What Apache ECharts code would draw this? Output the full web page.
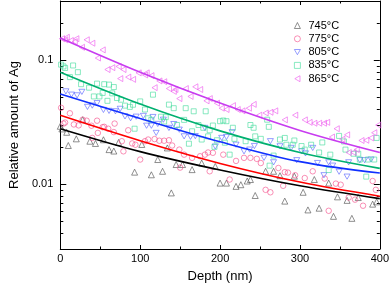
<!DOCTYPE html>
<html><head><meta charset="utf-8">
<script src="https://cdn.jsdelivr.net/npm/echarts@6/dist/echarts.min.js"></script>
<style>html,body{margin:0;padding:0;background:#fff}#c{width:392px;height:288px}</style>
</head><body><div id="c"></div>
<script>
// ---- data ----
const seriesNames = ['745°C', '775°C', '805°C', '835°C', '865°C'];
const fitX = [0, 100, 200, 300, 400];
const fit745 = [0.0280, 0.0183, 0.0130, 0.0097, 0.00764];
const fit775 = [0.0359, 0.0224, 0.0147, 0.0104, 0.0080];
const fit805 = [0.0533, 0.0339, 0.0220, 0.0152, 0.0123];
const fit835 = [0.0800, 0.0443, 0.0269, 0.0180, 0.0134];
const fit865 = [0.151, 0.0799, 0.0451, 0.0271, 0.0180];

const pts745 = [[0,0.0293],[2,0.0279],[8,0.0262],[10,0.0205],[20,0.0232],[28,0.0331],[37,0.0222],[44,0.0213],[54,0.0228],[61,0.0190],[67,0.0185],[73,0.0217],[93,0.0125],[102,0.0209],[114,0.0119],[122,0.0158],[128,0.0127],[134,0.0196],[139,0.0085],[145,0.0144],[153,0.0144],[165,0.0131],[177,0.0148],[194,0.0139],[200,0.0102],[208,0.0102],[220,0.0096],[226,0.0099],[234,0.0106],[238,0.0109],[244,0.0081],[257,0.0127],[267,0.0127],[275,0.0117],[281,0.0073],[293,0.0116],[304,0.0086],[310,0.0062],[318,0.0109],[324,0.0064],[336,0.0102],[342,0.0055],[347,0.0079],[359,0.0074],[365,0.0053],[373,0.0078],[391,0.0069],[396,0.0072]];
const pts775 = [[1,0.0413],[4,0.0308],[6,0.0314],[12,0.0373],[17,0.0303],[23,0.0298],[28,0.0331],[33,0.0325],[39,0.0296],[40,0.0236],[46,0.0325],[47,0.0259],[53,0.0288],[55,0.0290],[60,0.0280],[67,0.0263],[68,0.0308],[77,0.0222],[79,0.0184],[85,0.0272],[90,0.0213],[94,0.0208],[100,0.0158],[106,0.0222],[110,0.0229],[118,0.0231],[124,0.0224],[130,0.0224],[136,0.0226],[140,0.0205],[149,0.0190],[150,0.0136],[155,0.0173],[165,0.0163],[175,0.0168],[181,0.0173],[185,0.0180],[187,0.0127],[191,0.0179],[204,0.0173],[212,0.0109],[220,0.0154],[230,0.0163],[238,0.0163],[246,0.0160],[251,0.0148],[257,0.0090],[263,0.0086],[273,0.0135],[279,0.0097],[281,0.0125],[285,0.0124],[294,0.0118],[306,0.0112],[316,0.0127],[331,0.0111],[336,0.0061],[345,0.0101],[351,0.0099],[361,0.0078],[369,0.0075],[379,0.0067],[391,0.0106],[395,0.0090]];
const pts805 = [[7,0.0560],[14,0.0527],[21,0.0520],[27,0.0555],[34,0.0420],[40,0.0430],[46,0.0450],[54,0.0397],[61,0.0390],[69,0.0387],[75,0.0405],[81,0.0352],[88,0.0340],[95,0.0350],[104,0.0355],[108,0.0296],[114,0.0296],[116,0.0348],[120,0.0259],[122,0.0306],[129,0.0331],[136,0.0284],[142,0.0305],[149,0.0275],[155,0.0243],[163,0.0241],[169,0.0244],[181,0.0284],[194,0.0201],[202,0.0236],[208,0.0240],[215,0.0262],[220,0.0208],[230,0.0184],[237,0.0190],[243,0.0203],[255,0.0163],[263,0.0222],[267,0.0150],[275,0.0202],[289,0.0196],[296,0.0156],[302,0.0184],[307,0.0177],[316,0.0196],[322,0.0148],[330,0.0118],[336,0.0150],[341,0.0141],[349,0.0126],[359,0.0115],[361,0.0150],[375,0.0156],[381,0.0156],[389,0.0158]];
const pts835 = [[1,0.0920],[4,0.0890],[6,0.0865],[12,0.0730],[16,0.0906],[22,0.0800],[26,0.0640],[36,0.0600],[42,0.0510],[46,0.0647],[49,0.0510],[53,0.0544],[55,0.0640],[59,0.0470],[61,0.0635],[65,0.0540],[67,0.0607],[71,0.0495],[76,0.0480],[81,0.0430],[87,0.0420],[91,0.0437],[93,0.0280],[100,0.0465],[106,0.0400],[110,0.0340],[114,0.0330],[116,0.0527],[126,0.0350],[130,0.0320],[132,0.0347],[136,0.0438],[142,0.0410],[146,0.0300],[155,0.0330],[157,0.0410],[161,0.0212],[165,0.0267],[167,0.0387],[173,0.0300],[177,0.0229],[179,0.0285],[182,0.0387],[185,0.0243],[187,0.0272],[191,0.0297],[193,0.0200],[196,0.0226],[200,0.0322],[204,0.0326],[206,0.0216],[208,0.0322],[212,0.0173],[216,0.0285],[218,0.0232],[232,0.0222],[238,0.0300],[242,0.0285],[244,0.0243],[251,0.0232],[259,0.0331],[261,0.0290],[262,0.0141],[267,0.0170],[275,0.0229],[281,0.0236],[283,0.0208],[291,0.0208],[293,0.0225],[302,0.0203],[306,0.0190],[314,0.0208],[324,0.0180],[328,0.0217],[336,0.0130],[338,0.0173],[349,0.0245],[355,0.0221],[357,0.0190],[367,0.0176],[373,0.0176],[375,0.0158],[383,0.0115],[385,0.0158],[393,0.0158],[396,0.0236]];
const pts865 = [[2,0.149],[6,0.146],[8,0.153],[13,0.144],[18,0.141],[20,0.149],[27,0.127],[33,0.146],[40,0.137],[47,0.104],[53,0.121],[59,0.084],[65,0.087],[73,0.089],[75,0.071],[79,0.084],[85,0.073],[91,0.070],[98,0.079],[106,0.076],[108,0.079],[114,0.075],[118,0.060],[124,0.068],[130,0.067],[136,0.059],[142,0.056],[144,0.058],[149,0.049],[157,0.059],[163,0.051],[169,0.061],[175,0.058],[183,0.047],[187,0.049],[196,0.045],[202,0.041],[208,0.040],[216,0.043],[222,0.040],[228,0.039],[236,0.041],[242,0.044],[249,0.036],[257,0.0375],[263,0.038],[269,0.039],[281,0.033],[294,0.036],[306,0.033],[312,0.0315],[318,0.031],[324,0.031],[330,0.031],[334,0.0315],[340,0.024],[346,0.028],[353,0.023],[359,0.025],[361,0.018],[367,0.018],[371,0.019],[377,0.0225],[383,0.0226],[389,0.0236],[393,0.026],[398,0.030]];

const xTicks = [0, 100, 200, 300, 400];
const yLabelTicks = [0.01, 0.1];
const yMinorTicks = [0.004,0.005,0.006,0.007,0.008,0.009,0.02,0.03,0.04,0.05,0.06,0.07,0.08,0.09,0.2];
const yMin = 0.003, yMax = 0.3;

// ---- styles ----
const lineColors = ['#000000', '#ff0000', '#1030ff', '#00b070', '#c83cf0'];
const ptColors = ['#505050', '#f5508c', '#5a64ff', '#46dc9e', '#ee5aee'];
const TRI_DOWN = 'path://M0,0L10,0L5,8.66Z';
const TRI_LEFT = 'path://M0,5L8.66,0L8.66,10Z';
const symbols = ['triangle', 'circle', TRI_DOWN, 'rect', TRI_LEFT];
const sizes = [6, 5.5, 6, 5, 6];
const FONT = 'Liberation Sans';

const fits = [fit745, fit775, fit805, fit835, fit865];
const pts = [pts745, pts775, pts805, pts835, pts865];

const series = [];
pts.forEach((p, i) => {
  series.push({
    name: seriesNames[i], type: 'scatter', xAxisIndex: 0, yAxisIndex: 0,
    data: p, symbol: symbols[i], symbolSize: sizes[i], symbolKeepAspect: true,
    itemStyle: { color: 'rgba(255,255,255,0)', borderColor: ptColors[i], borderWidth: 0.8 },
    z: 2, silent: true
  });
});
fits.forEach((f, i) => {
  series.push({
    name: 'fit ' + seriesNames[i], type: 'line', xAxisIndex: 0, yAxisIndex: 0,
    data: fitX.map((x, k) => [x, f[k]]), showSymbol: false, smooth: 0.35,
    lineStyle: { color: lineColors[i], width: 1.6 }, z: 3, silent: true
  });
});

const L = v => Math.log10(v);
function auxY(pos, vals, len) {
  return {
    type: 'value', position: pos, min: L(yMin), max: L(yMax), gridIndex: 0,
    axisLine: { show: false, onZero: false }, splitLine: { show: false },
    axisLabel: { show: false },
    axisTick: { show: true, inside: true, length: len, customValues: vals.map(L), lineStyle: { color: '#000', width: 1 } }
  };
}
function xAx(pos, showLabel) {
  return {
    type: 'value', position: pos, min: 0, max: 400, interval: 100,
    axisLine: { show: true, onZero: false, lineStyle: { color: '#000', width: 1 } },
    splitLine: { show: false },
    axisTick: { show: true, inside: true, length: 4, lineStyle: { color: '#000' } },
    minorTick: { show: true, splitNumber: 2, length: 2.5, lineStyle: { color: '#000' } },
    axisLabel: { show: showLabel, color: '#000', fontSize: 11, fontFamily: FONT, margin: 4, customValues: xTicks },
    name: showLabel ? 'Depth (nm)' : '', nameLocation: 'middle', nameGap: 21,
    nameTextStyle: { color: '#000', fontSize: 13, fontFamily: FONT }
  };
}

const legendData = seriesNames.map((n, i) => ({
  name: n, icon: symbols[i],
  itemStyle: { color: 'rgba(255,255,255,0)', borderColor: ptColors[i], borderWidth: 0.8 }
}));

const option = {
  animation: false,
  grid: { left: 43, right: 9, top: 1, bottom: 39, containLabel: false },
  legend: {
    data: legendData, orient: 'vertical', left: 289, top: 15,
    itemWidth: 6, itemHeight: 6, itemGap: 2.3, symbolKeepAspect: true,
    textStyle: { color: '#000', fontSize: 11, fontFamily: FONT, lineHeight: 11, padding: [0, 0, 0, 3] },
    selectedMode: false
  },
  xAxis: [xAx('bottom', true), xAx('top', false)],
  yAxis: [
    {
      type: 'log', logBase: 10, min: yMin, max: yMax, position: 'left',
      axisLine: { show: true, onZero: false, lineStyle: { color: '#000', width: 1 } },
      axisTick: { show: false }, splitLine: { show: false },
      axisLabel: { color: '#000', fontSize: 11, fontFamily: FONT, margin: 7,
        formatter: v => (yLabelTicks.some(t => Math.abs(t - v) / t < 1e-6) ? String(v) : '') },
      name: 'Relative amount of Ag', nameLocation: 'middle', nameGap: 27,
      nameTextStyle: { color: '#000', fontSize: 13, fontFamily: FONT }
    },
    auxY('left', yLabelTicks, 6),
    auxY('left', yMinorTicks, 3),
    Object.assign(auxY('right', yLabelTicks, 6), { axisLine: { show: true, onZero: false, lineStyle: { color: '#000', width: 1 } } }),
    auxY('right', yMinorTicks, 3)
  ],
  series: series
};
const chart = echarts.init(document.getElementById('c'), null, { renderer: 'canvas' });
chart.setOption(option);
</script></body></html>
